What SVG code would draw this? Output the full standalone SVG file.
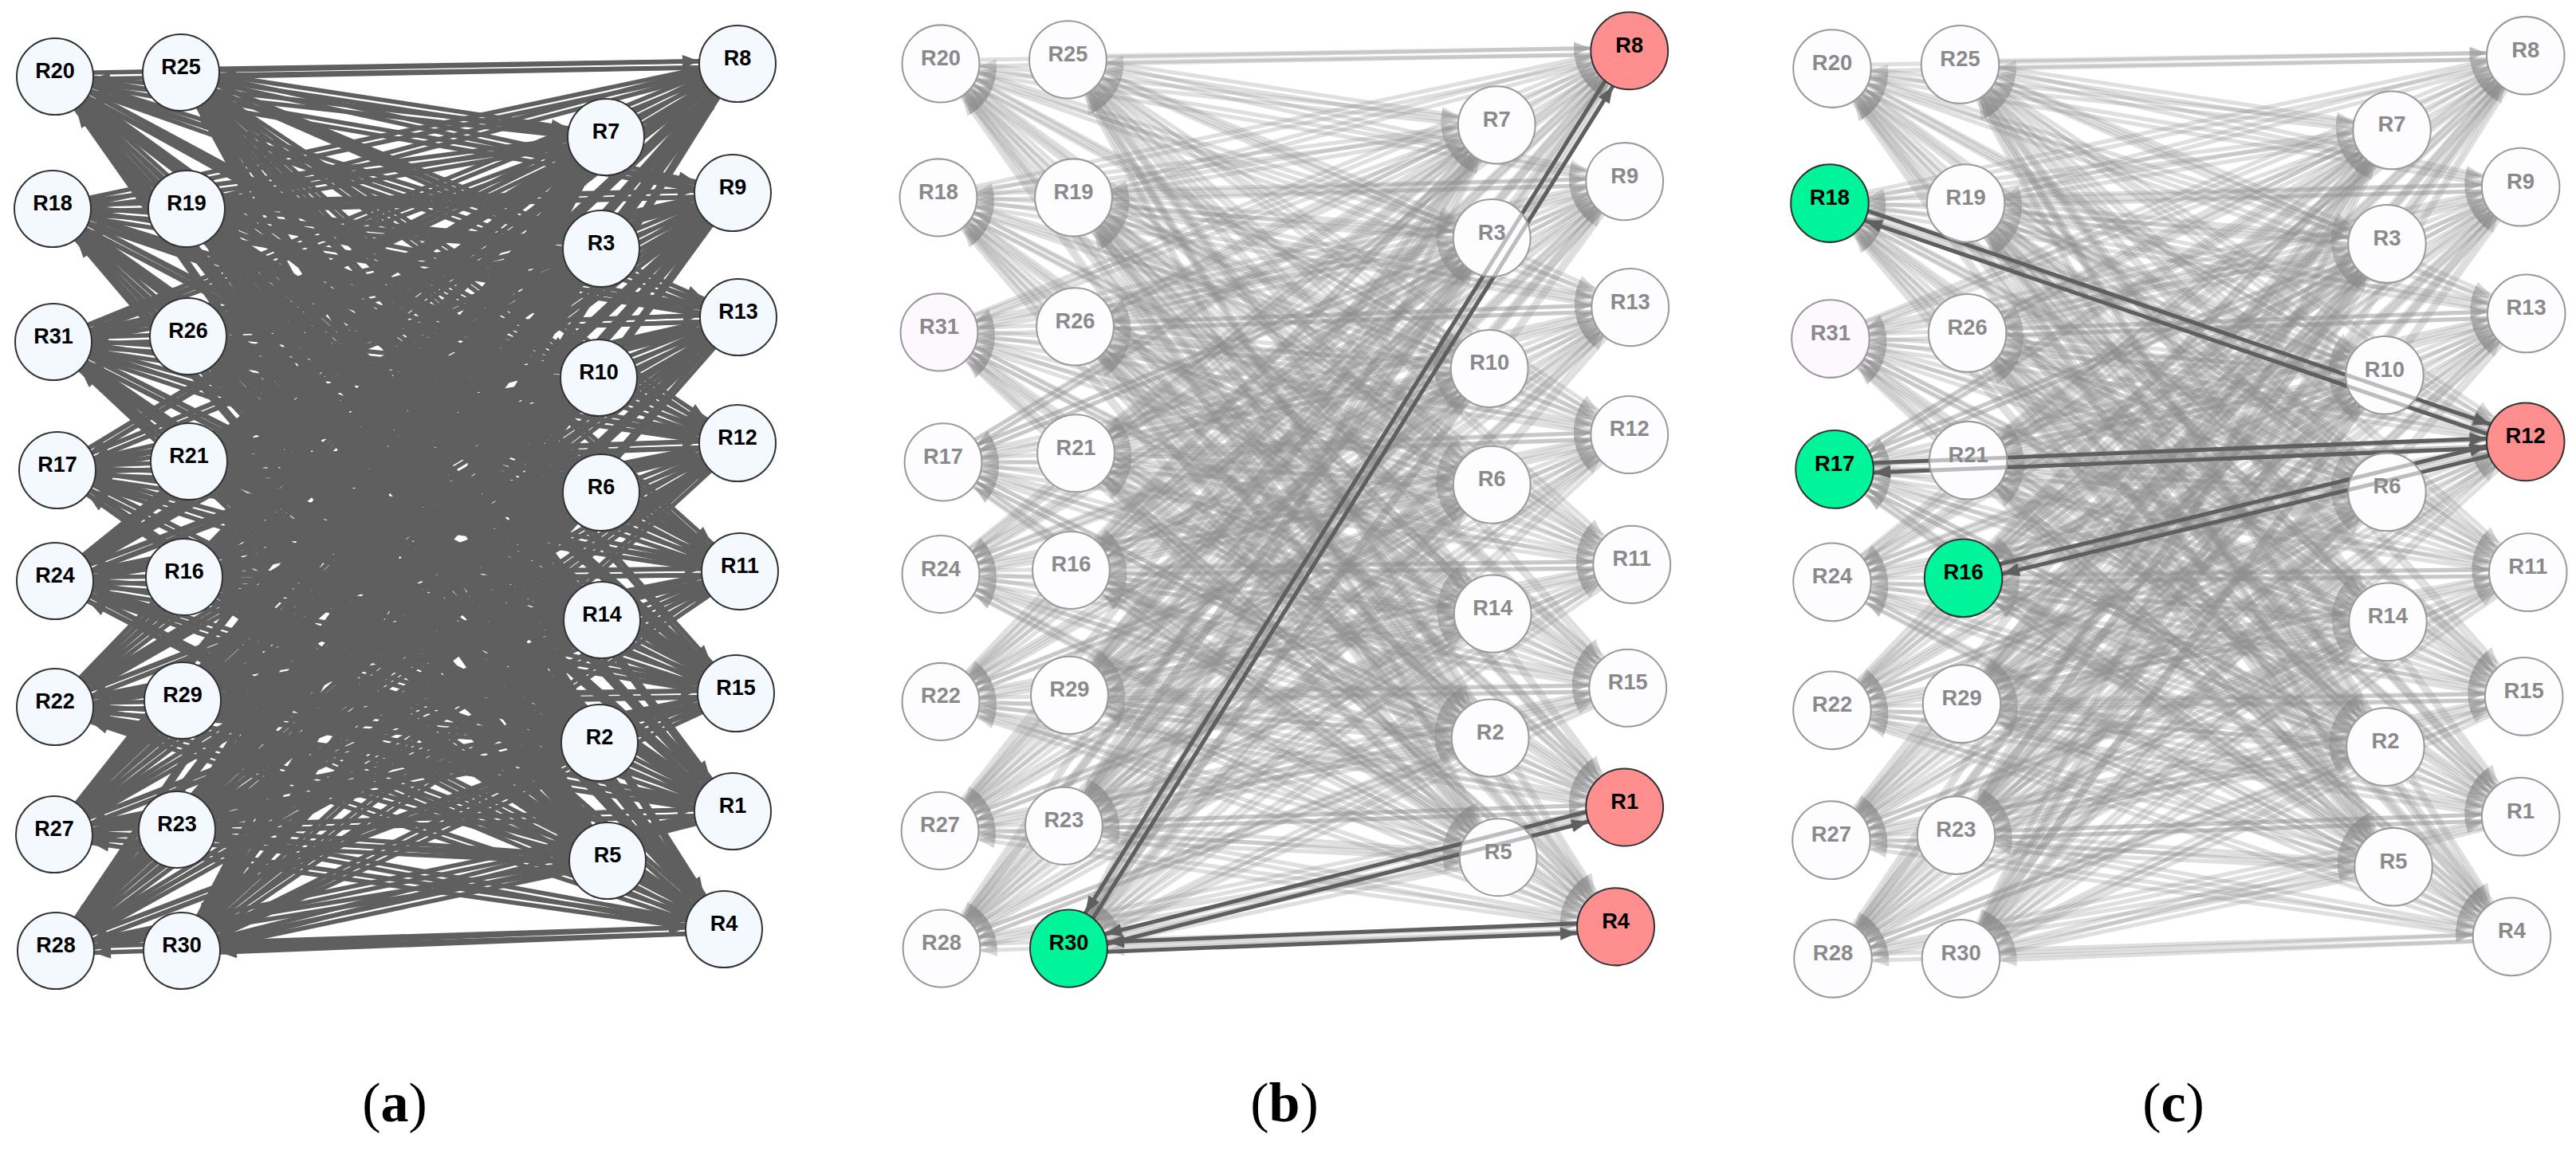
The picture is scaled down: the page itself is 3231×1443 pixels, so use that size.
<svg xmlns="http://www.w3.org/2000/svg" width="3231" height="1443" viewBox="0 0 3231 1443">
<style>
.n circle{fill:#f4f9ff;stroke:#333;stroke-width:2}
.f circle{fill:#fbfcff;fill-opacity:.6;stroke:#9a9a9a;stroke-width:2}
.f.p circle{fill:#fbf3fd}
.g circle{fill:#00f59b;stroke:#333;stroke-width:2}
.r circle{fill:#ff8f8f;stroke:#333;stroke-width:2}
.n text,.f text,.g text,.r text{font-family:"Liberation Sans",Arial,sans-serif;font-weight:bold;font-size:27px;text-anchor:middle;fill:#000}
.f text{fill:#8a8a8a}
.cap{font-family:"Liberation Serif","Times New Roman",serif;font-size:70px;text-anchor:middle;fill:#000}
.dk{fill:none;stroke:#5f5f5f;stroke-width:5}
.dka{fill:none;stroke:#5f5f5f;stroke-width:5.5}
.ft{fill:none;stroke:#8c8c8c;stroke-opacity:.28;stroke-width:5}
</style>
<defs>
<marker id="ma" markerUnits="userSpaceOnUse" orient="auto-start-reverse" overflow="visible" markerWidth="1" markerHeight="1" refX="0" refY="0"><path d="M-48 0L-69 -8L-69 8Z" fill="#5f5f5f"/></marker>
<marker id="mf" markerUnits="userSpaceOnUse" orient="auto-start-reverse" overflow="visible" markerWidth="1" markerHeight="1" refX="0" refY="0"><path d="M-48 0L-69 -8L-69 8Z" fill="#8c8c8c" fill-opacity=".35"/></marker>
<mask id="mk" maskUnits="userSpaceOnUse" x="-200" y="-200" width="1500" height="1800">
<rect x="-200" y="-200" width="1500" height="1800" fill="#fff"/>
<g fill="#000">
<circle cx="69" cy="96" r="47"/><circle cx="227" cy="91" r="47"/><circle cx="925" cy="80" r="47"/><circle cx="760" cy="172" r="47"/><circle cx="919" cy="242" r="47"/><circle cx="66" cy="262" r="47"/><circle cx="234" cy="262" r="47"/><circle cx="754" cy="312" r="47"/><circle cx="926" cy="398" r="47"/><circle cx="67" cy="429" r="47"/><circle cx="236" cy="422" r="47"/><circle cx="751" cy="474" r="47"/><circle cx="925" cy="556" r="47"/><circle cx="72" cy="590" r="47"/><circle cx="237" cy="579" r="47"/><circle cx="754" cy="618" r="47"/><circle cx="69" cy="729" r="47"/><circle cx="231" cy="724" r="47"/><circle cx="928" cy="717" r="47"/><circle cx="755" cy="778" r="47"/><circle cx="69" cy="887" r="47"/><circle cx="229" cy="879" r="47"/><circle cx="923" cy="870" r="47"/><circle cx="752" cy="932" r="47"/><circle cx="919" cy="1018" r="47"/><circle cx="68" cy="1047" r="47"/><circle cx="222" cy="1041" r="47"/><circle cx="762" cy="1080" r="47"/><circle cx="908" cy="1166" r="47"/><circle cx="70" cy="1193" r="47"/><circle cx="228" cy="1193" r="47"/>
</g>
</mask>
<g id="E">
<path d="M69 96L925 80"/><path d="M69 96L760 172"/><path d="M69 96L919 242"/><path d="M69 96L754 312"/><path d="M69 96L926 398"/><path d="M69 96L751 474"/><path d="M69 96L925 556"/><path d="M69 96L754 618"/><path d="M69 96L928 717"/><path d="M69 96L755 778"/><path d="M69 96L923 870"/><path d="M69 96L752 932"/><path d="M69 96L919 1018"/><path d="M69 96L762 1080"/><path d="M69 96L908 1166"/>
<path d="M227 91L925 80"/><path d="M227 91L760 172"/><path d="M227 91L919 242"/><path d="M227 91L754 312"/><path d="M227 91L926 398"/><path d="M227 91L751 474"/><path d="M227 91L925 556"/><path d="M227 91L754 618"/><path d="M227 91L928 717"/><path d="M227 91L755 778"/><path d="M227 91L923 870"/><path d="M227 91L752 932"/><path d="M227 91L919 1018"/><path d="M227 91L762 1080"/><path d="M227 91L908 1166"/>
<path d="M66 262L925 80"/><path d="M66 262L760 172"/><path d="M66 262L919 242"/><path d="M66 262L754 312"/><path d="M66 262L926 398"/><path d="M66 262L751 474"/><path d="M66 262L925 556"/><path d="M66 262L754 618"/><path d="M66 262L928 717"/><path d="M66 262L755 778"/><path d="M66 262L923 870"/><path d="M66 262L752 932"/><path d="M66 262L919 1018"/><path d="M66 262L762 1080"/><path d="M66 262L908 1166"/>
<path d="M234 262L925 80"/><path d="M234 262L760 172"/><path d="M234 262L919 242"/><path d="M234 262L754 312"/><path d="M234 262L926 398"/><path d="M234 262L751 474"/><path d="M234 262L925 556"/><path d="M234 262L754 618"/><path d="M234 262L928 717"/><path d="M234 262L755 778"/><path d="M234 262L923 870"/><path d="M234 262L752 932"/><path d="M234 262L919 1018"/><path d="M234 262L762 1080"/><path d="M234 262L908 1166"/>
<path d="M67 429L925 80"/><path d="M67 429L760 172"/><path d="M67 429L919 242"/><path d="M67 429L754 312"/><path d="M67 429L926 398"/><path d="M67 429L751 474"/><path d="M67 429L925 556"/><path d="M67 429L754 618"/><path d="M67 429L928 717"/><path d="M67 429L755 778"/><path d="M67 429L923 870"/><path d="M67 429L752 932"/><path d="M67 429L919 1018"/><path d="M67 429L762 1080"/><path d="M67 429L908 1166"/>
<path d="M236 422L925 80"/><path d="M236 422L760 172"/><path d="M236 422L919 242"/><path d="M236 422L754 312"/><path d="M236 422L926 398"/><path d="M236 422L751 474"/><path d="M236 422L925 556"/><path d="M236 422L754 618"/><path d="M236 422L928 717"/><path d="M236 422L755 778"/><path d="M236 422L923 870"/><path d="M236 422L752 932"/><path d="M236 422L919 1018"/><path d="M236 422L762 1080"/><path d="M236 422L908 1166"/>
<path d="M72 590L925 80"/><path d="M72 590L760 172"/><path d="M72 590L919 242"/><path d="M72 590L754 312"/><path d="M72 590L926 398"/><path d="M72 590L751 474"/><path d="M72 590L925 556"/><path d="M72 590L754 618"/><path d="M72 590L928 717"/><path d="M72 590L755 778"/><path d="M72 590L923 870"/><path d="M72 590L752 932"/><path d="M72 590L919 1018"/><path d="M72 590L762 1080"/><path d="M72 590L908 1166"/>
<path d="M237 579L925 80"/><path d="M237 579L760 172"/><path d="M237 579L919 242"/><path d="M237 579L754 312"/><path d="M237 579L926 398"/><path d="M237 579L751 474"/><path d="M237 579L925 556"/><path d="M237 579L754 618"/><path d="M237 579L928 717"/><path d="M237 579L755 778"/><path d="M237 579L923 870"/><path d="M237 579L752 932"/><path d="M237 579L919 1018"/><path d="M237 579L762 1080"/><path d="M237 579L908 1166"/>
<path d="M69 729L925 80"/><path d="M69 729L760 172"/><path d="M69 729L919 242"/><path d="M69 729L754 312"/><path d="M69 729L926 398"/><path d="M69 729L751 474"/><path d="M69 729L925 556"/><path d="M69 729L754 618"/><path d="M69 729L928 717"/><path d="M69 729L755 778"/><path d="M69 729L923 870"/><path d="M69 729L752 932"/><path d="M69 729L919 1018"/><path d="M69 729L762 1080"/><path d="M69 729L908 1166"/>
<path d="M231 724L925 80"/><path d="M231 724L760 172"/><path d="M231 724L919 242"/><path d="M231 724L754 312"/><path d="M231 724L926 398"/><path d="M231 724L751 474"/><path d="M231 724L925 556"/><path d="M231 724L754 618"/><path d="M231 724L928 717"/><path d="M231 724L755 778"/><path d="M231 724L923 870"/><path d="M231 724L752 932"/><path d="M231 724L919 1018"/><path d="M231 724L762 1080"/><path d="M231 724L908 1166"/>
<path d="M69 887L925 80"/><path d="M69 887L760 172"/><path d="M69 887L919 242"/><path d="M69 887L754 312"/><path d="M69 887L926 398"/><path d="M69 887L751 474"/><path d="M69 887L925 556"/><path d="M69 887L754 618"/><path d="M69 887L928 717"/><path d="M69 887L755 778"/><path d="M69 887L923 870"/><path d="M69 887L752 932"/><path d="M69 887L919 1018"/><path d="M69 887L762 1080"/><path d="M69 887L908 1166"/>
<path d="M229 879L925 80"/><path d="M229 879L760 172"/><path d="M229 879L919 242"/><path d="M229 879L754 312"/><path d="M229 879L926 398"/><path d="M229 879L751 474"/><path d="M229 879L925 556"/><path d="M229 879L754 618"/><path d="M229 879L928 717"/><path d="M229 879L755 778"/><path d="M229 879L923 870"/><path d="M229 879L752 932"/><path d="M229 879L919 1018"/><path d="M229 879L762 1080"/><path d="M229 879L908 1166"/>
<path d="M68 1047L925 80"/><path d="M68 1047L760 172"/><path d="M68 1047L919 242"/><path d="M68 1047L754 312"/><path d="M68 1047L926 398"/><path d="M68 1047L751 474"/><path d="M68 1047L925 556"/><path d="M68 1047L754 618"/><path d="M68 1047L928 717"/><path d="M68 1047L755 778"/><path d="M68 1047L923 870"/><path d="M68 1047L752 932"/><path d="M68 1047L919 1018"/><path d="M68 1047L762 1080"/><path d="M68 1047L908 1166"/>
<path d="M222 1041L925 80"/><path d="M222 1041L760 172"/><path d="M222 1041L919 242"/><path d="M222 1041L754 312"/><path d="M222 1041L926 398"/><path d="M222 1041L751 474"/><path d="M222 1041L925 556"/><path d="M222 1041L754 618"/><path d="M222 1041L928 717"/><path d="M222 1041L755 778"/><path d="M222 1041L923 870"/><path d="M222 1041L752 932"/><path d="M222 1041L919 1018"/><path d="M222 1041L762 1080"/><path d="M222 1041L908 1166"/>
<path d="M70 1193L925 80"/><path d="M70 1193L760 172"/><path d="M70 1193L919 242"/><path d="M70 1193L754 312"/><path d="M70 1193L926 398"/><path d="M70 1193L751 474"/><path d="M70 1193L925 556"/><path d="M70 1193L754 618"/><path d="M70 1193L928 717"/><path d="M70 1193L755 778"/><path d="M70 1193L923 870"/><path d="M70 1193L752 932"/><path d="M70 1193L919 1018"/><path d="M70 1193L762 1080"/><path d="M70 1193L908 1166"/>
<path d="M228 1193L925 80"/><path d="M228 1193L760 172"/><path d="M228 1193L919 242"/><path d="M228 1193L754 312"/><path d="M228 1193L926 398"/><path d="M228 1193L751 474"/><path d="M228 1193L925 556"/><path d="M228 1193L754 618"/><path d="M228 1193L928 717"/><path d="M228 1193L755 778"/><path d="M228 1193L923 870"/><path d="M228 1193L752 932"/><path d="M228 1193L919 1018"/><path d="M228 1193L762 1080"/><path d="M228 1193L908 1166"/>
</g>
</defs>
<rect width="3231" height="1443" fill="#fff"/>

<!-- Panel (a) -->
<g id="panel-a">
<g id="a-connectors" class="dka">
<use href="#E" transform="translate(0,-4)" marker-end="url(#ma)"/>
<use href="#E" transform="translate(0,4)" marker-start="url(#ma)"/>
</g>
<g id="a-nodes">
<g id="a-R20" class="n"><circle cx="69" cy="96" r="48"/><text x="69" y="98">R20</text></g>
<g id="a-R25" class="n"><circle cx="227" cy="91" r="48"/><text x="227" y="93">R25</text></g>
<g id="a-R8" class="n"><circle cx="925" cy="80" r="48"/><text x="925" y="82">R8</text></g>
<g id="a-R7" class="n"><circle cx="760" cy="172" r="48"/><text x="760" y="174">R7</text></g>
<g id="a-R9" class="n"><circle cx="919" cy="242" r="48"/><text x="919" y="244">R9</text></g>
<g id="a-R18" class="n"><circle cx="66" cy="262" r="48"/><text x="66" y="264">R18</text></g>
<g id="a-R19" class="n"><circle cx="234" cy="262" r="48"/><text x="234" y="264">R19</text></g>
<g id="a-R3" class="n"><circle cx="754" cy="312" r="48"/><text x="754" y="314">R3</text></g>
<g id="a-R13" class="n"><circle cx="926" cy="398" r="48"/><text x="926" y="400">R13</text></g>
<g id="a-R31" class="n"><circle cx="67" cy="429" r="48"/><text x="67" y="431">R31</text></g>
<g id="a-R26" class="n"><circle cx="236" cy="422" r="48"/><text x="236" y="424">R26</text></g>
<g id="a-R10" class="n"><circle cx="751" cy="474" r="48"/><text x="751" y="476">R10</text></g>
<g id="a-R12" class="n"><circle cx="925" cy="556" r="48"/><text x="925" y="558">R12</text></g>
<g id="a-R17" class="n"><circle cx="72" cy="590" r="48"/><text x="72" y="592">R17</text></g>
<g id="a-R21" class="n"><circle cx="237" cy="579" r="48"/><text x="237" y="581">R21</text></g>
<g id="a-R6" class="n"><circle cx="754" cy="618" r="48"/><text x="754" y="620">R6</text></g>
<g id="a-R24" class="n"><circle cx="69" cy="729" r="48"/><text x="69" y="731">R24</text></g>
<g id="a-R16" class="n"><circle cx="231" cy="724" r="48"/><text x="231" y="726">R16</text></g>
<g id="a-R11" class="n"><circle cx="928" cy="717" r="48"/><text x="928" y="719">R11</text></g>
<g id="a-R14" class="n"><circle cx="755" cy="778" r="48"/><text x="755" y="780">R14</text></g>
<g id="a-R22" class="n"><circle cx="69" cy="887" r="48"/><text x="69" y="889">R22</text></g>
<g id="a-R29" class="n"><circle cx="229" cy="879" r="48"/><text x="229" y="881">R29</text></g>
<g id="a-R15" class="n"><circle cx="923" cy="870" r="48"/><text x="923" y="872">R15</text></g>
<g id="a-R2" class="n"><circle cx="752" cy="932" r="48"/><text x="752" y="934">R2</text></g>
<g id="a-R1" class="n"><circle cx="919" cy="1018" r="48"/><text x="919" y="1020">R1</text></g>
<g id="a-R27" class="n"><circle cx="68" cy="1047" r="48"/><text x="68" y="1049">R27</text></g>
<g id="a-R23" class="n"><circle cx="222" cy="1041" r="48"/><text x="222" y="1043">R23</text></g>
<g id="a-R5" class="n"><circle cx="762" cy="1080" r="48"/><text x="762" y="1082">R5</text></g>
<g id="a-R4" class="n"><circle cx="908" cy="1166" r="48"/><text x="908" y="1168">R4</text></g>
<g id="a-R28" class="n"><circle cx="70" cy="1193" r="48"/><text x="70" y="1195">R28</text></g>
<g id="a-R30" class="n"><circle cx="228" cy="1193" r="48"/><text x="228" y="1195">R30</text></g>
</g>
</g>
<text class="cap" x="495" y="1407">(<tspan font-weight="bold">a</tspan>)</text>

<!-- Panel (b) -->
<g id="panel-b" transform="matrix(1.009 0 0 1.012 1110.4 -17.2)">
<g id="b-connectors" class="ft" mask="url(#mk)">
<use href="#E" transform="translate(0,-4)" marker-end="url(#mf)"/>
<use href="#E" transform="translate(0,4)" marker-start="url(#mf)"/>
</g>
<g id="b-highlight-connectors" class="dk">
<path d="M233 1196L930 83" marker-end="url(#ma)"/>
<path d="M223 1190L920 77" marker-start="url(#ma)"/>
<path d="M229.5 1199L920.5 1024" marker-end="url(#ma)"/>
<path d="M226.5 1187L917.5 1012" marker-start="url(#ma)"/>
<path d="M228 1199L908 1172" marker-end="url(#ma)"/>
<path d="M228 1187L908 1160" marker-start="url(#ma)"/>
</g>
<g id="b-nodes">
<g id="b-R20" class="f"><circle cx="69" cy="96" r="48"/><text x="69" y="98">R20</text></g>
<g id="b-R25" class="f"><circle cx="227" cy="91" r="48"/><text x="227" y="93">R25</text></g>
<g id="b-R7" class="f"><circle cx="760" cy="172" r="48"/><text x="760" y="174">R7</text></g>
<g id="b-R9" class="f"><circle cx="919" cy="242" r="48"/><text x="919" y="244">R9</text></g>
<g id="b-R18" class="f"><circle cx="66" cy="262" r="48"/><text x="66" y="264">R18</text></g>
<g id="b-R19" class="f"><circle cx="234" cy="262" r="48"/><text x="234" y="264">R19</text></g>
<g id="b-R3" class="f"><circle cx="754" cy="312" r="48"/><text x="754" y="314">R3</text></g>
<g id="b-R13" class="f"><circle cx="926" cy="398" r="48"/><text x="926" y="400">R13</text></g>
<g id="b-R31" class="f p"><circle cx="67" cy="429" r="48"/><text x="67" y="431">R31</text></g>
<g id="b-R26" class="f"><circle cx="236" cy="422" r="48"/><text x="236" y="424">R26</text></g>
<g id="b-R10" class="f"><circle cx="751" cy="474" r="48"/><text x="751" y="476">R10</text></g>
<g id="b-R12" class="f"><circle cx="925" cy="556" r="48"/><text x="925" y="558">R12</text></g>
<g id="b-R17" class="f"><circle cx="72" cy="590" r="48"/><text x="72" y="592">R17</text></g>
<g id="b-R21" class="f"><circle cx="237" cy="579" r="48"/><text x="237" y="581">R21</text></g>
<g id="b-R6" class="f"><circle cx="754" cy="618" r="48"/><text x="754" y="620">R6</text></g>
<g id="b-R24" class="f"><circle cx="69" cy="729" r="48"/><text x="69" y="731">R24</text></g>
<g id="b-R16" class="f"><circle cx="231" cy="724" r="48"/><text x="231" y="726">R16</text></g>
<g id="b-R11" class="f"><circle cx="928" cy="717" r="48"/><text x="928" y="719">R11</text></g>
<g id="b-R14" class="f"><circle cx="755" cy="778" r="48"/><text x="755" y="780">R14</text></g>
<g id="b-R22" class="f"><circle cx="69" cy="887" r="48"/><text x="69" y="889">R22</text></g>
<g id="b-R29" class="f"><circle cx="229" cy="879" r="48"/><text x="229" y="881">R29</text></g>
<g id="b-R15" class="f"><circle cx="923" cy="870" r="48"/><text x="923" y="872">R15</text></g>
<g id="b-R2" class="f"><circle cx="752" cy="932" r="48"/><text x="752" y="934">R2</text></g>
<g id="b-R27" class="f"><circle cx="68" cy="1047" r="48"/><text x="68" y="1049">R27</text></g>
<g id="b-R23" class="f"><circle cx="222" cy="1041" r="48"/><text x="222" y="1043">R23</text></g>
<g id="b-R5" class="f"><circle cx="762" cy="1080" r="48"/><text x="762" y="1082">R5</text></g>
<g id="b-R28" class="f"><circle cx="70" cy="1193" r="48"/><text x="70" y="1195">R28</text></g>
<g id="b-R8" class="r"><circle cx="925" cy="80" r="48"/><text x="925" y="82">R8</text></g>
<g id="b-R1" class="r"><circle cx="919" cy="1018" r="48"/><text x="919" y="1020">R1</text></g>
<g id="b-R4" class="r"><circle cx="908" cy="1166" r="48"/><text x="908" y="1168">R4</text></g>
<g id="b-R30" class="g"><circle cx="228" cy="1193" r="48"/><text x="228" y="1195">R30</text></g>
</g>
</g>
<text class="cap" x="1611" y="1407">(<tspan font-weight="bold">b</tspan>)</text>

<!-- Panel (c) -->
<g id="panel-c" transform="matrix(1.016 0 0 1.018 2227.9 -11.7)">
<g id="c-connectors" class="ft" mask="url(#mk)">
<use href="#E" transform="translate(0,-4)" marker-end="url(#mf)"/>
<use href="#E" transform="translate(0,4)" marker-start="url(#mf)"/>
</g>
<g id="c-highlight-connectors" class="dk">
<path d="M68 256L927 550" marker-end="url(#ma)"/>
<path d="M64 268L923 562" marker-start="url(#ma)"/>
<path d="M72 584L925 550" marker-end="url(#ma)"/>
<path d="M72 596L925 562" marker-start="url(#ma)"/>
<path d="M229.5 718L923.5 550" marker-end="url(#ma)"/>
<path d="M232.5 730L926.5 562" marker-start="url(#ma)"/>
</g>
<g id="c-nodes">
<g id="c-R20" class="f"><circle cx="69" cy="96" r="48"/><text x="69" y="98">R20</text></g>
<g id="c-R25" class="f"><circle cx="227" cy="91" r="48"/><text x="227" y="93">R25</text></g>
<g id="c-R8" class="f"><circle cx="925" cy="80" r="48"/><text x="925" y="82">R8</text></g>
<g id="c-R7" class="f"><circle cx="760" cy="172" r="48"/><text x="760" y="174">R7</text></g>
<g id="c-R9" class="f"><circle cx="919" cy="242" r="48"/><text x="919" y="244">R9</text></g>
<g id="c-R19" class="f"><circle cx="234" cy="262" r="48"/><text x="234" y="264">R19</text></g>
<g id="c-R3" class="f"><circle cx="754" cy="312" r="48"/><text x="754" y="314">R3</text></g>
<g id="c-R13" class="f"><circle cx="926" cy="398" r="48"/><text x="926" y="400">R13</text></g>
<g id="c-R31" class="f p"><circle cx="67" cy="429" r="48"/><text x="67" y="431">R31</text></g>
<g id="c-R26" class="f"><circle cx="236" cy="422" r="48"/><text x="236" y="424">R26</text></g>
<g id="c-R10" class="f"><circle cx="751" cy="474" r="48"/><text x="751" y="476">R10</text></g>
<g id="c-R21" class="f"><circle cx="237" cy="579" r="48"/><text x="237" y="581">R21</text></g>
<g id="c-R6" class="f"><circle cx="754" cy="618" r="48"/><text x="754" y="620">R6</text></g>
<g id="c-R24" class="f"><circle cx="69" cy="729" r="48"/><text x="69" y="731">R24</text></g>
<g id="c-R11" class="f"><circle cx="928" cy="717" r="48"/><text x="928" y="719">R11</text></g>
<g id="c-R14" class="f"><circle cx="755" cy="778" r="48"/><text x="755" y="780">R14</text></g>
<g id="c-R22" class="f"><circle cx="69" cy="887" r="48"/><text x="69" y="889">R22</text></g>
<g id="c-R29" class="f"><circle cx="229" cy="879" r="48"/><text x="229" y="881">R29</text></g>
<g id="c-R15" class="f"><circle cx="923" cy="870" r="48"/><text x="923" y="872">R15</text></g>
<g id="c-R2" class="f"><circle cx="752" cy="932" r="48"/><text x="752" y="934">R2</text></g>
<g id="c-R1" class="f"><circle cx="919" cy="1018" r="48"/><text x="919" y="1020">R1</text></g>
<g id="c-R27" class="f"><circle cx="68" cy="1047" r="48"/><text x="68" y="1049">R27</text></g>
<g id="c-R23" class="f"><circle cx="222" cy="1041" r="48"/><text x="222" y="1043">R23</text></g>
<g id="c-R5" class="f"><circle cx="762" cy="1080" r="48"/><text x="762" y="1082">R5</text></g>
<g id="c-R4" class="f"><circle cx="908" cy="1166" r="48"/><text x="908" y="1168">R4</text></g>
<g id="c-R28" class="f"><circle cx="70" cy="1193" r="48"/><text x="70" y="1195">R28</text></g>
<g id="c-R30" class="f"><circle cx="228" cy="1193" r="48"/><text x="228" y="1195">R30</text></g>
<g id="c-R12" class="r"><circle cx="925" cy="556" r="48"/><text x="925" y="558">R12</text></g>
<g id="c-R18" class="g"><circle cx="66" cy="262" r="48"/><text x="66" y="264">R18</text></g>
<g id="c-R17" class="g"><circle cx="72" cy="590" r="48"/><text x="72" y="592">R17</text></g>
<g id="c-R16" class="g"><circle cx="231" cy="724" r="48"/><text x="231" y="726">R16</text></g>
</g>
</g>
<text class="cap" x="2726" y="1407">(<tspan font-weight="bold">c</tspan>)</text>
</svg>
